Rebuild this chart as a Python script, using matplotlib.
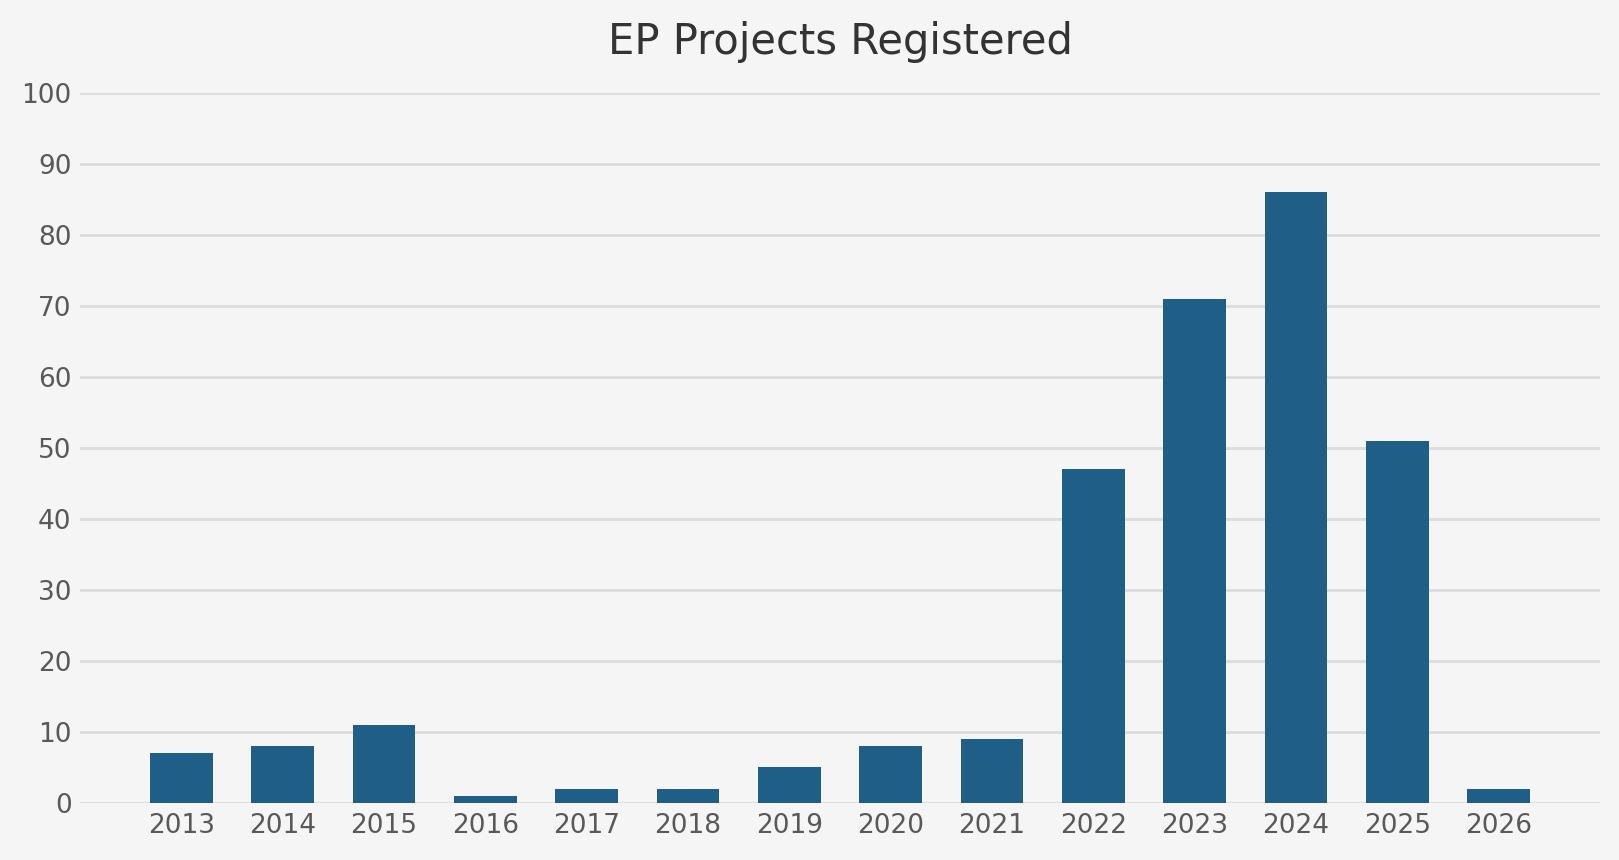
import matplotlib.pyplot as plt

# data
years = [2013, 2014, 2015, 2016, 2017, 2018, 2019, 2020, 2021, 2022, 2023, 2024, 2025, 2026]
projects = [7, 8, 11, 1, 2, 2, 5, 8, 9, 47, 71, 86, 51, 2]
y_ticks = list(range(0, 101, 10))

bg = '#f5f5f5'
bar_color = '#1f5f87'
text_color = '#595959'

fig = plt.figure(figsize=(16.19, 8.6), dpi=100, facecolor=bg)
ax = fig.add_axes([0.0494, 0.0663, 0.9389, 0.8256])
ax.set_facecolor(bg)

ax.bar(years, projects, width=0.62, color=bar_color, zorder=3)

ax.set_xlim(2012, 2027)
ax.set_ylim(0, 100)
ax.set_xticks(years)
ax.set_yticks(y_ticks)
ax.grid(axis='y', color='#dcdcdc', linewidth=2, zorder=0)
ax.tick_params(axis='both', length=0, labelsize=19, labelcolor=text_color)
ax.tick_params(axis='x', pad=7)
ax.tick_params(axis='y', pad=6)
for s in ax.spines.values():
    s.set_visible(False)

ax.set_title('EP Projects Registered', fontsize=30, color='#333333', pad=28)

fig.savefig('out.png', dpi=100, facecolor=bg)
